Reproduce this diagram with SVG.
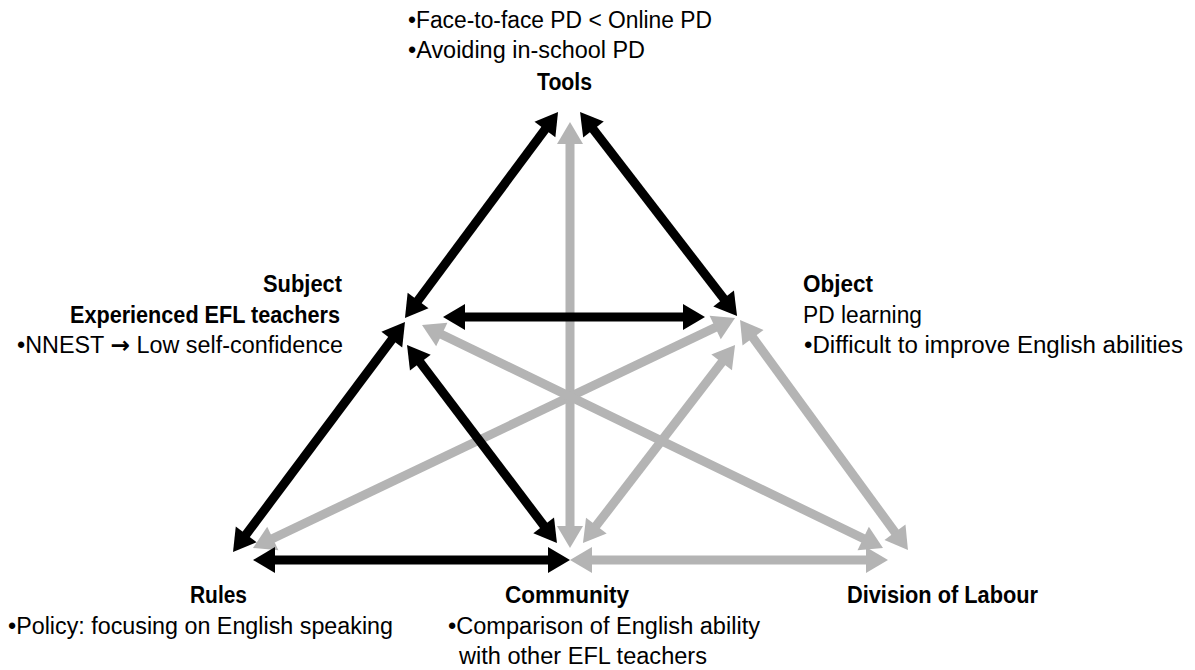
<svg xmlns="http://www.w3.org/2000/svg" width="1195" height="670" viewBox="0 0 1195 670">
<style>
.t{font-family:"Liberation Sans",Arial,sans-serif;font-size:23px;fill:#000}
.b{font-weight:bold}
.ar{font-family:"DejaVu Sans",sans-serif;font-weight:bold}
.k{stroke:#000;stroke-width:9;fill:none;marker-start:url(#hk);marker-end:url(#hk)}
.g{stroke:#b4b4b4;stroke-width:9;fill:none;marker-start:url(#hg);marker-end:url(#hg)}
</style>
<defs>
<marker id="hk" viewBox="-1 -14 24 28" refX="7" refY="0" markerWidth="24" markerHeight="28" markerUnits="userSpaceOnUse" orient="auto-start-reverse"><path d="M0,-13 L22,0 L0,13 z" fill="#000"/></marker>
<marker id="hg" viewBox="-1 -14 24 28" refX="7" refY="0" markerWidth="24" markerHeight="28" markerUnits="userSpaceOnUse" orient="auto-start-reverse"><path d="M0,-13 L22,0 L0,13 z" fill="#b4b4b4"/></marker>
</defs>
<rect width="1195" height="670" fill="#fff"/>
<g id="connectors">
<line class="g" x1="570" y1="137" x2="570" y2="533"/>
<line class="g" x1="721.5" y1="324.5" x2="266.5" y2="541.5"/>
<line class="g" x1="435.5" y1="331.5" x2="869.5" y2="541.5"/>
<line class="g" x1="725.9" y1="356.9" x2="592.1" y2="531.1"/>
<line class="g" x1="748.9" y1="332.1" x2="899.1" y2="537.9"/>
<line class="g" x1="585" y1="560" x2="873" y2="560"/>
<line class="k" x1="549.1" y1="124" x2="413.9" y2="306"/>
<line class="k" x1="589.2" y1="123.9" x2="727.9" y2="304.1"/>
<line class="k" x1="458" y1="317" x2="690" y2="317"/>
<line class="k" x1="396" y1="334" x2="242" y2="540"/>
<line class="k" x1="416.1" y1="357" x2="547.9" y2="531"/>
<line class="k" x1="268" y1="560" x2="555" y2="560"/>
</g>
<g id="tools">
<text class="t" x="408" y="28" textLength="304" lengthAdjust="spacingAndGlyphs">•Face-to-face PD &lt; Online PD</text>
<text class="t" x="408" y="58" textLength="237" lengthAdjust="spacingAndGlyphs">•Avoiding in-school PD</text>
<text class="t b" x="537" y="90" textLength="55" lengthAdjust="spacingAndGlyphs">Tools</text>
</g>
<g id="subject">
<text class="t b" x="263" y="292" textLength="79" lengthAdjust="spacingAndGlyphs">Subject</text>
<text class="t b" x="70" y="323" textLength="270" lengthAdjust="spacingAndGlyphs">Experienced EFL teachers</text>
<text class="t" x="17" y="353" textLength="326" lengthAdjust="spacingAndGlyphs">•NNEST <tspan class="ar">→</tspan> Low self-confidence</text>
</g>
<g id="object">
<text class="t b" x="803" y="292" textLength="70" lengthAdjust="spacingAndGlyphs">Object</text>
<text class="t" x="803" y="323" textLength="119" lengthAdjust="spacingAndGlyphs">PD learning</text>
<text class="t" x="804" y="353" textLength="379" lengthAdjust="spacingAndGlyphs">•Difficult to improve English abilities</text>
</g>
<g id="rules">
<text class="t b" x="190" y="603" textLength="57" lengthAdjust="spacingAndGlyphs">Rules</text>
<text class="t" x="8" y="634" textLength="385" lengthAdjust="spacingAndGlyphs">•Policy: focusing on English speaking</text>
</g>
<g id="community">
<text class="t b" x="505" y="603" textLength="124" lengthAdjust="spacingAndGlyphs">Community</text>
<text class="t" x="448" y="634" textLength="312" lengthAdjust="spacingAndGlyphs">•Comparison of English ability</text>
<text class="t" x="459" y="664" textLength="248" lengthAdjust="spacingAndGlyphs">with other EFL teachers</text>
</g>
<g id="division">
<text class="t b" x="847" y="603" textLength="191" lengthAdjust="spacingAndGlyphs">Division of Labour</text>
</g>
</svg>
